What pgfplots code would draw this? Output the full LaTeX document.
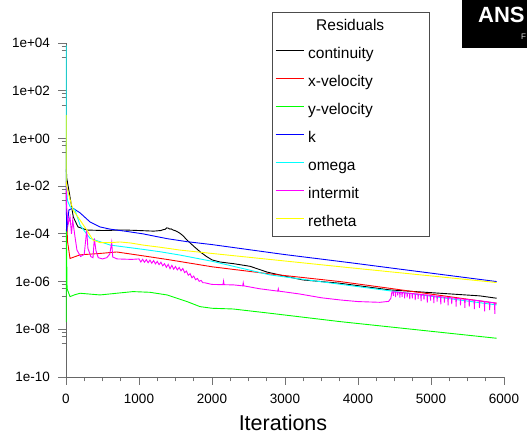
\documentclass[border=0pt]{standalone}
\usepackage{fontspec}
\setmainfont{Liberation Sans}
\usepackage{pgfplots}
\pgfplotsset{compat=1.18}
\begin{document}
\begin{tikzpicture}
\path[use as bounding box] (0pt,0pt) rectangle (527pt,438pt);
\clip (0pt,0pt) rectangle (527pt,438pt);
% product badge in the corner
\fill[black] (462pt,390pt) rectangle (540pt,445pt);
\node[anchor=base west, text=white, inner sep=0pt, font=\fontsize{22}{22}\selectfont\bfseries] at (478pt,415pt) {ANS};
\node[anchor=base west, text=white!85!black, inner sep=0pt, font=\fontsize{8}{8}\selectfont] at (521pt,398pt) {F};
\begin{axis}[
  at={(66pt,61pt)}, anchor=south west,
  scale only axis, width=438pt, height=334pt,
  xmin=0, xmax=6000, ymode=log, ymin=1e-10, ymax=1e4,
  axis x line*=bottom, axis y line*=left,
  axis line style={black!60, line width=0.8pt, -},
  tick align=outside,
  major tick length=7.5pt, minor tick length=4.3pt,
  every tick/.style={black!55, line width=0.8pt},
  xtick={0,1000,2000,3000,4000,5000,6000},
  xticklabels={0,1000,2000,3000,4000,5000,6000},
  minor xtick={250,500,750,1250,1500,1750,2250,2500,2750,3250,3500,3750,4250,4500,4750,5250,5500,5750},
  ytick={1e-10,1e-8,1e-6,1e-4,1e-2,1,1e2,1e4},
  yticklabels={1e-10,1e-08,1e-06,1e-04,1e-02,1e+00,1e+02,1e+04},
  minor ytick={7.5e3,5e3,2.5e3,75,50,25,0.75,0.5,0.25,7.5e-3,5e-3,2.5e-3,7.5e-5,5e-5,2.5e-5,7.5e-7,5e-7,2.5e-7,7.5e-9,5e-9,2.5e-9},
  ticklabel style={font=\fontsize{13.5}{16}\selectfont},
  xticklabel style={yshift=-6pt},
  yticklabel style={xshift=-5pt},
  xlabel={Iterations},
  xlabel style={font=\fontsize{21.5}{24}\selectfont, at={(axis description cs:0.4954,0)}, anchor=base, yshift=-53pt},
  legend style={at={(0.4703,1.0928)}, anchor=north west, draw=black!70, fill=white,
    inner xsep=3pt, inner ysep=7pt, row sep=14pt, column sep=4pt,
    nodes={inner sep=0pt, text height=11pt, text depth=3pt},
    font=\fontsize{15.5}{18}\selectfont, cells={anchor=west}},
  legend image code/.code={\draw[#1, line width=1pt] (0pt,4pt) -- (28pt,4pt);},
  every axis plot/.append style={line width=0.9pt, mark=none},
]
\addlegendimage{empty legend}
\addlegendentry{\makebox[118pt][l]{\hspace*{8pt}Residuals}}

% continuity
\addplot[black] coordinates {
(1,6.5e-1)(3,6.3e-2)(10,2.2e-2)(55,3.55e-3)(100,5.1e-4)(164,1.95e-4)(284,1.45e-4)
(500,1.38e-4)(800,1.45e-4)(1000,1.38e-4)(1200,1.3e-4)(1300,1.38e-4)(1330,1.5e-4)
(1360,1.55e-4)(1380,1.78e-4)(1397,1.75e-4)(1410,1.66e-4)(1425,1.58e-4)(1440,1.62e-4)
(1466,1.45e-4)(1490,1.38e-4)(1520,1.26e-4)(1562,1.05e-4)(1600,8.5e-5)(1658,5.5e-5)
(1750,3.02e-5)(1836,1.78e-5)(1920,1.15e-5)(2000,8.1e-6)(2110,6.6e-6)(2300,5.6e-6)
(2521,4.37e-6)(2753,2.51e-6)(3023,1.62e-6)(3247,1.17e-6)(3753,8.5e-7)(4438,4.47e-7)
(5123,3.24e-7)(5671,2.51e-7)(5900,2.0e-7)
};
\addlegendentry{continuity}

% x-velocity
\addplot[red] coordinates {
(1,6.3e-3)(20,5.0e-5)(55,9.3e-6)(192,1.32e-5)(466,1.51e-5)(695,1.74e-5)(1055,1.2e-5)
(1425,8.1e-6)(2000,4.17e-6)(2795,2.09e-6)(3753,1.0e-6)(4400,5.4e-7)(5900,1.23e-7)
};
\addlegendentry{x-velocity}

% y-velocity
\addplot[green] coordinates {
(1,2.0e-8)(4,1.58e-4)(15,5.0e-7)(55,2.34e-7)(120,2.8e-7)(192,3.24e-7)(466,2.75e-7)
(695,3.24e-7)(918,3.8e-7)(1150,3.55e-7)(1384,2.75e-7)(1658,1.45e-7)(1836,8.9e-8)
(2000,7.6e-8)(2288,7.1e-8)(2795,4.7e-8)(3753,2.1e-8)(5900,4.2e-9)
};
\addlegendentry{y-velocity}

% k
\addplot[blue] coordinates {
(1,5.0e-2)(8,1.26e-4)(40,1.0e-3)(92,1.2e-3)(192,7.6e-4)(329,3.16e-4)(466,1.95e-4)
(603,1.58e-4)(836,1.26e-4)(1055,1.0e-4)(1384,6.3e-5)(1658,4.7e-5)(2000,3.55e-5)
(2500,2.19e-5)(3000,1.35e-5)(3890,6.2e-6)(4500,3.55e-6)(5900,1.0e-6)
};
\addlegendentry{k}

% omega
\addplot[color={rgb,1:red,0;green,1;blue,1}] coordinates {
(1,7.9e3)(4,1.0e-2)(20,2.5e-3)(55,1.38e-3)(123,1.0e-3)(192,2.34e-4)(260,1.23e-4)
(329,6.5e-5)(466,4.7e-5)(603,3.4e-5)(832,2.75e-5)(1055,2.24e-5)(1288,1.78e-5)
(1562,1.29e-5)(2000,7.1e-6)(2795,1.9e-6)(3890,6.8e-7)(5900,1.05e-7)
};
\addlegendentry{omega}

% intermit
\addplot[color={rgb,1:red,1;green,0;blue,1}] coordinates {
(1,1.58e-2)(10,1.0e-3)(30,2.5e-4)(55,5.2e-4)(75,1.0e-4)(92,3.8e-4)(123,7.6e-5)
(150,2.09e-5)(200,1.12e-5)(250,1.41e-5)(284,1.45e-4)(300,2.5e-5)(340,1.12e-5)
(370,1.0e-5)(388,6.5e-5)(410,2.0e-5)(442,1.0e-5)(500,8.9e-6)(558,1.0e-5)(600,1.41e-5)
(626,4.47e-5)(640,1.07e-5)(700,8.9e-6)(900,8.5e-6)
(1000,8.91e-6)(1025,6.64e-6)(1050,8.61e-6)(1075,6.46e-6)(1100,8.32e-6)(1125,6.17e-6)
(1150,7.94e-6)(1175,5.89e-6)(1200,7.59e-6)(1225,5.50e-6)(1250,7.0e-6)(1275,5.13e-6)
(1300,6.46e-6)(1325,4.57e-6)(1350,5.62e-6)(1375,3.98e-6)(1400,5.25e-6)(1425,3.47e-6)
(1450,4.79e-6)(1475,3.31e-6)(1500,4.27e-6)(1525,3.09e-6)(1550,3.89e-6)(1575,2.82e-6)
(1600,3.55e-6)(1625,2.37e-6)(1650,2.75e-6)(1675,1.84e-6)(1700,2.14e-6)(1725,1.45e-6)
(1750,1.70e-6)(1775,1.20e-6)(1800,1.35e-6)(1825,1.02e-6)(1850,1.12e-6)(1875,8.91e-7)
(1900,8.91e-7)(2000,7.59e-7)(2150,7.41e-7)(2158,1.05e-6)(2166,7.41e-7)(2300,7.24e-7)
(2420,6.61e-7)(2428,8.91e-7)(2436,6.61e-7)(2650,5.01e-7)(2800,4.37e-7)(2900,3.98e-7)
(2908,5.01e-7)(2916,3.98e-7)(3200,3.02e-7)(3500,2.09e-7)(3753,1.70e-7)(4000,1.45e-7)
(4300,1.35e-7)(4420,1.48e-7)(4450,2.0e-7)(4465,3.72e-7)
(4480,3.72e-7)(4484,2.51e-7)(4488,3.70e-7)
(4510,3.63e-7)(4514,2.24e-7)(4518,3.62e-7)
(4540,3.63e-7)(4544,2.63e-7)(4548,3.60e-7)
(4570,3.55e-7)(4574,2.14e-7)(4578,3.53e-7)
(4600,3.47e-7)(4604,2.29e-7)(4608,3.45e-7)
(4635,3.39e-7)(4639,2.00e-7)(4643,3.37e-7)
(4670,3.31e-7)(4674,2.19e-7)(4678,3.29e-7)
(4705,3.24e-7)(4709,1.82e-7)(4713,3.22e-7)
(4740,3.16e-7)(4744,2.00e-7)(4748,3.14e-7)
(4780,3.09e-7)(4784,1.66e-7)(4788,3.07e-7)
(4820,3.02e-7)(4824,1.91e-7)(4828,3.00e-7)
(4860,2.88e-7)(4864,1.51e-7)(4868,2.86e-7)
(4900,2.82e-7)(4904,1.74e-7)(4908,2.80e-7)
(4945,2.75e-7)(4949,1.32e-7)(4953,2.73e-7)
(4990,2.63e-7)(4994,1.58e-7)(4998,2.61e-7)
(5035,2.51e-7)(5039,1.26e-7)(5043,2.50e-7)
(5080,2.45e-7)(5084,1.45e-7)(5088,2.43e-7)
(5130,2.34e-7)(5134,1.12e-7)(5138,2.32e-7)
(5180,2.24e-7)(5184,1.32e-7)(5188,2.22e-7)
(5230,2.19e-7)(5234,1.00e-7)(5238,2.17e-7)
(5280,2.09e-7)(5284,1.15e-7)(5288,2.07e-7)
(5340,2.00e-7)(5344,8.91e-8)(5348,1.98e-7)
(5400,1.91e-7)(5404,1.00e-7)(5408,1.89e-7)
(5460,1.82e-7)(5464,7.94e-8)(5468,1.80e-7)
(5520,1.74e-7)(5524,8.91e-8)(5528,1.72e-7)
(5590,1.66e-7)(5594,7.08e-8)(5598,1.64e-7)
(5660,1.58e-7)(5664,7.94e-8)(5668,1.56e-7)
(5730,1.48e-7)(5734,5.62e-8)(5738,1.46e-7)
(5800,1.38e-7)(5804,6.31e-8)(5808,1.36e-7)
(5870,1.29e-7)(5874,4.47e-8)(5878,1.27e-7)
(5900,1.26e-7)
};
\addlegendentry{intermit}

% retheta
\addplot[color={rgb,1:red,1;green,1;blue,0}] coordinates {
(1,9.5)(3,1.58e-2)(10,1.0e-2)(32,5.1e-3)(96,1.0e-3)(192,3.8e-4)(284,1.45e-4)
(370,5.5e-5)(466,4.27e-5)(603,4.27e-5)(740,4.57e-5)(877,4.17e-5)(1055,3.39e-5)
(1288,2.75e-5)(1562,2.09e-5)(2000,1.51e-5)(3890,3.8e-6)(5900,9.1e-7)
};
\addlegendentry{retheta}
\end{axis}
\end{tikzpicture}
\end{document}
